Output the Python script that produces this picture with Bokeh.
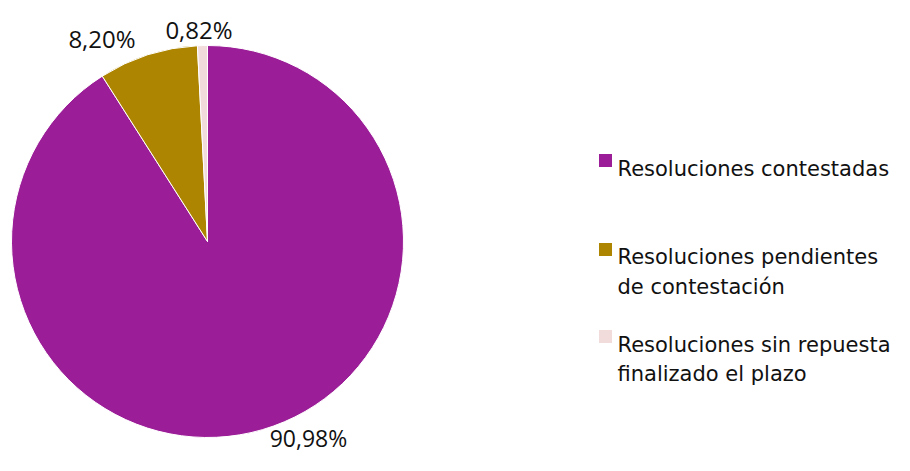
import math
from bokeh.plotting import figure
from bokeh.models import Range1d, ColumnDataSource
from bokeh.core.properties import value
from bokeh.embed import file_html
from bokeh.resources import INLINE

# ---- data ----
categories = ["Resoluciones contestadas",
              "Resoluciones pendientes de contestación",
              "Resoluciones sin repuesta finalizado el plazo"]
legend_lines = [["Resoluciones contestadas"],
                ["Resoluciones pendientes", "de contestación"],
                ["Resoluciones sin repuesta", "finalizado el plazo"]]
values = [90.98, 8.20, 0.82]
pct_labels = ["90,98%", "8,20%", "0,82%"]
colors = ["#9B1D97", "#AE8500", "#F2DCDB"]

W, H = 894, 455
p = figure(width=W, height=H, output_backend="svg", toolbar_location=None,
           x_range=Range1d(0, W), y_range=Range1d(0, H),
           x_axis_type=None, y_axis_type=None,
           min_border=0, min_border_left=0, min_border_right=0,
           min_border_top=0, min_border_bottom=0)
p.outline_line_color = None
p.grid.visible = False
p.background_fill_color = "white"

def Y(fy):  # pixel y (top-down) -> data y
    return H - fy

cx, cy, r = 207, Y(241), 196
total = sum(values)
starts, ends = [], []
cum = 0.0
for v in values:
    starts.append(math.pi / 2 - 2 * math.pi * (cum + v) / total)
    ends.append(math.pi / 2 - 2 * math.pi * cum / total)
    cum += v

src = ColumnDataSource(dict(start=starts, end=ends, color=colors, cat=categories))
p.wedge(x=cx, y=cy, radius=r, start_angle="start", end_angle="end",
        direction="anticlock", fill_color="color", line_color="white",
        line_width=1, source=src)

# percentage labels
p.text(x=[308], y=[Y(453)], text=pct_labels[:1], text_font=value("Open Sans"),
       text_font_size="23px", text_align="center", text_baseline="bottom",
       text_color="#111111")
p.text(x=[101.5, 198.5], y=[Y(38.3), Y(29.3)], text=pct_labels[1:],
       text_font=value("Open Sans"), text_font_size="24px", text_align="center",
       text_baseline="alphabetic", text_color="#111111")

# legend
lx = 605
sq_y = [Y(160), Y(249), Y(336)]
p.rect(x=[lx] * 3, y=sq_y, width=13, height=13, fill_color=colors, line_color=None)
base_y = [[Y(168)], [Y(256.7), Y(286.7)], [Y(344), Y(373)]]
tx, ty, tt = [], [], []
for lines, ys in zip(legend_lines, base_y):
    for t, yy in zip(lines, ys):
        tx.append(lx + 12)
        ty.append(yy)
        tt.append(t)
p.text(x=tx, y=ty, text=tt, text_font=value("DejaVu Sans"), text_font_size="21px",
       text_align="left", text_baseline="alphabetic", text_color="#111111")

open("out.html", "w").write(file_html(p, INLINE))
